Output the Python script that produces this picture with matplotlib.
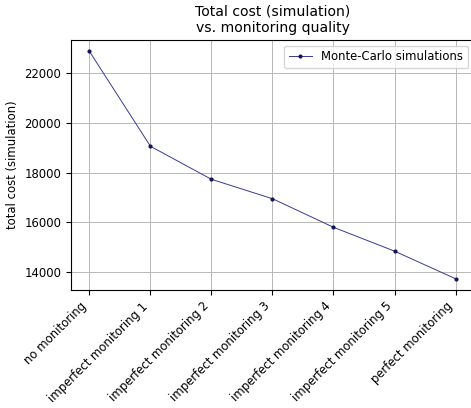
import matplotlib
matplotlib.use("Agg")
import matplotlib.pyplot as plt

labels = [
    "no monitoring",
    "imperfect monitoring 1",
    "imperfect monitoring 2",
    "imperfect monitoring 3",
    "imperfect monitoring 4",
    "imperfect monitoring 5",
    "perfect monitoring",
]
total_cost = [22880, 19060, 17730, 16950, 15800, 14840, 13730]

plt.rcParams["font.size"] = 8.4

fig = plt.figure(figsize=(4.71, 4.08), dpi=100)
ax = fig.add_axes([0.151, 0.289, 0.855, 0.613])

ax.plot(labels, total_cost, color="#3a3a90", lw=0.7, marker=".", ms=4,
        mfc="#14145a", mec="#14145a", label="Monte-Carlo simulations")
ax.grid(True, color="#b8b8b8", lw=0.7)
ax.set_ylabel("total cost (simulation)")
ax.set_title("Total cost (simulation)\nvs. monitoring quality")
ax.legend(loc="upper right")
plt.setp(ax.get_xticklabels(), rotation=45, ha="right")

fig.savefig("out.png", dpi=100)
